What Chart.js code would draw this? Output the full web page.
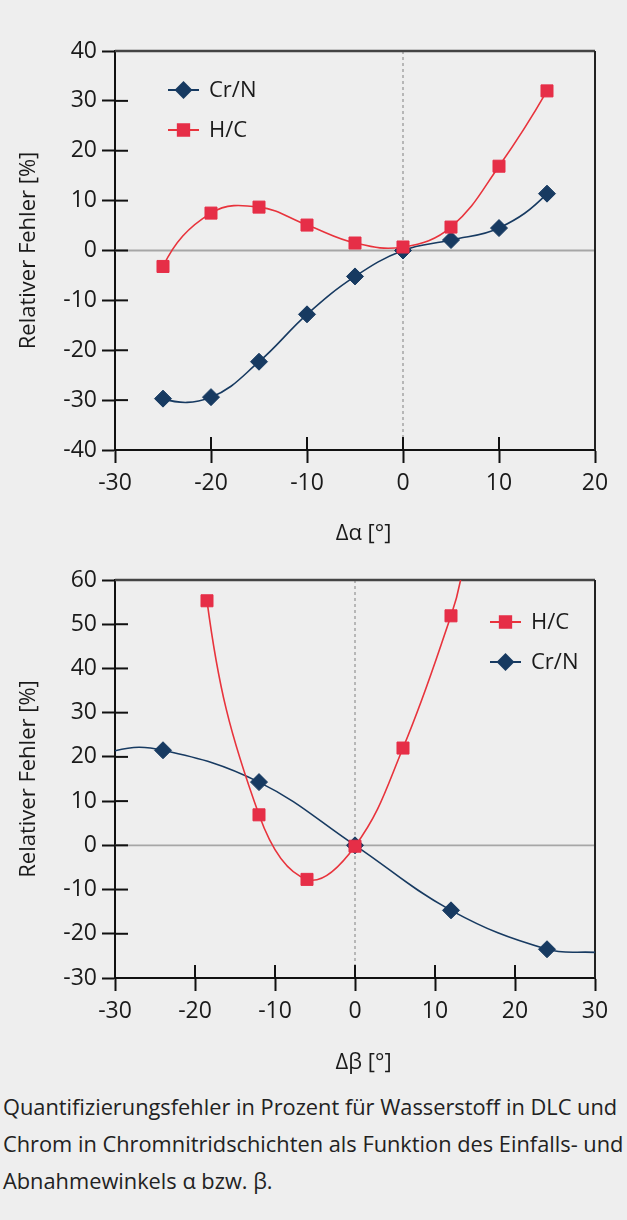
<!DOCTYPE html>
<html>
<head>
<meta charset="utf-8">
<script src="https://cdn.jsdelivr.net/npm/chart.js@4.4.1/dist/chart.umd.min.js"></script>
<style>
  html, body { margin: 0; padding: 0; background: #eeeeee; }
  body { width: 627px; height: 1220px; position: relative; overflow: hidden; font-family: 'Open Sans', sans-serif; }
  .box { position: absolute; left: 0; width: 627px; }
  #alphaBox { top: 0; height: 560px; }
  #betaBox { top: 560px; height: 520px; }
  .caption { position: absolute; left: 3px; top: 1088px; font-size: 21.8px; line-height: 37px; color: #222; white-space: nowrap; }
</style>
</head>
<body>
<div class="box" id="alphaBox"><canvas id="alphaChart" width="627" height="560"></canvas></div>
<div class="box" id="betaBox"><canvas id="betaChart" width="627" height="520"></canvas></div>
<div class="caption">Quantifizierungsfehler in Prozent für Wasserstoff in DLC und<br>Chrom in Chromnitridschichten als Funktion des Einfalls- und<br>Abnahmewinkels α bzw. β.</div>
<script>
// --- Δα chart
const alphaX = [-25, -20, -15, -10, -5, 0, 5, 10, 15];
const crnAlpha = [-29.7, -29.4, -22.3, -12.8, -5.2, 0, 2.1, 4.5, 11.4];
const hcAlpha = [-3.2, 7.5, 8.7, 5.1, 1.5, 0.7, 4.7, 16.9, 32.0];
const alphaXTicks = [-30, -20, -10, 0, 10, 20];
const alphaYTicks = [-40, -30, -20, -10, 0, 10, 20, 30, 40];

// --- Δβ chart (curves run on past the measured points, mark 0 = no marker)
const crnBetaX = [-30, -24, -12, 0, 12, 24, 30];
const crnBeta = [21.4, 21.5, 14.3, 0, -14.7, -23.5, -24.2];
const crnBetaMark = [0, 1, 1, 1, 1, 1, 0];
const hcBetaX = [-18.5, -12, -6, 0, 6, 12, 13.2];
const hcBeta = [55.3, 6.9, -7.7, -0.2, 22.0, 51.9, 60];
const hcBetaMark = [1, 1, 1, 1, 1, 1, 0];
const betaXTicks = [-30, -20, -10, 0, 10, 20, 30];
const betaYTicks = [-30, -20, -10, 0, 10, 20, 30, 40, 50, 60];

const NAVY = '#173a61';
const RED = '#e62e47';
const RED_LINE = '#e8333c';
const TEXT = '#1a1a1a';

Chart.defaults.font.family = "'Open Sans', sans-serif";
Chart.defaults.color = TEXT;

function pts(xs, ys) {
  return xs.map((x, i) => ({ x, y: ys[i] }));
}

function reflect(vx, vy, dx, dy) {
  const len = Math.hypot(dx, dy);
  const ux = dx / len;
  const uy = dy / len;
  const dot = vx * ux + vy * uy;
  return [2 * dot * ux - vx, 2 * dot * uy - vy];
}

// end segments curve like the spreadsheet smoothing (mirrored tangent)
const smoothEnds = {
  id: 'smoothEnds',
  beforeDatasetDraw(chart, args) {
    const meta = args.meta;
    const line = meta.dataset;
    if (!line) return;
    const ends = chart.data.datasets[args.index].mirrorEnds || [true, true];
    line.updateControlPoints(chart.chartArea, meta.iScale.axis);
    const p = line.points;
    const n = p.length;
    if (n < 3) return;
    let r;
    if (ends[0]) {
      r = reflect(p[1].x - p[1].cp1x, p[1].y - p[1].cp1y, p[1].x - p[0].x, p[1].y - p[0].y);
      p[0].cp2x = p[0].x + r[0];
      p[0].cp2y = p[0].y + r[1];
    }
    if (ends[1]) {
      const a = p[n - 2];
      const b = p[n - 1];
      r = reflect(a.cp2x - a.x, a.cp2y - a.y, b.x - a.x, b.y - a.y);
      b.cp1x = b.x - r[0];
      b.cp1y = b.y - r[1];
    }
  },
};

function drawLine(ctx, x1, y1, x2, y2) {
  ctx.beginPath();
  ctx.moveTo(x1, y1);
  ctx.lineTo(x2, y2);
  ctx.stroke();
}

const frame = {
  id: 'frame',
  beforeDatasetsDraw(chart) {
    const { ctx, chartArea: a, scales: { x, y } } = chart;
    ctx.save();
    const y0 = y.getPixelForValue(0);
    ctx.strokeStyle = '#a6a6a6';
    ctx.lineWidth = 1.8;
    drawLine(ctx, a.left, y0, a.right, y0);
    const x0 = x.getPixelForValue(0);
    ctx.setLineDash([3, 3]);
    ctx.strokeStyle = '#9a9a9a';
    ctx.lineWidth = 1.3;
    drawLine(ctx, x0, a.top, x0, a.bottom);
    ctx.setLineDash([]);
    ctx.strokeStyle = '#111';
    ctx.lineWidth = 2;
    y.ticks.forEach((t) => {
      const py = y.getPixelForValue(t.value);
      drawLine(ctx, a.left, py, a.left + 13, py);
    });
    x.ticks.forEach((t) => {
      const px = x.getPixelForValue(t.value);
      drawLine(ctx, px, a.bottom, px, a.bottom - 13);
    });
    ctx.strokeStyle = '#444';
    ctx.lineWidth = 2.5;
    drawLine(ctx, a.left, a.top, a.right, a.top);
    ctx.strokeStyle = '#222';
    ctx.lineWidth = 2;
    drawLine(ctx, a.right, a.top, a.right, a.bottom);
    ctx.restore();
  },
};

const insideLegend = {
  id: 'insideLegend',
  afterDatasetsDraw(chart, args, opts) {
    const ctx = chart.ctx;
    opts.items.forEach((idx, i) => {
      const ds = chart.data.datasets[idx];
      const y = opts.y + i * opts.gap;
      ctx.save();
      ctx.strokeStyle = ds.borderColor;
      ctx.lineWidth = 2;
      drawLine(ctx, opts.x, y, opts.x + 31, y);
      ctx.fillStyle = ds.pointBackgroundColor;
      ctx.strokeStyle = ds.pointBackgroundColor;
      Chart.helpers.drawPoint(ctx, { pointStyle: ds.pointStyle, radius: ds.legendRadius, rotation: 0, borderWidth: 1 }, opts.x + 15.5, y);
      ctx.fillStyle = TEXT;
      ctx.font = "22px 'Open Sans', sans-serif";
      ctx.textBaseline = 'middle';
      ctx.fillText(ds.label, opts.x + 41, y + 1);
      ctx.restore();
    });
  },
};

function crnSet(data, marks, mirrorEnds) {
  return {
    label: 'Cr/N',
    data,
    borderColor: NAVY,
    borderWidth: 1.6,
    pointStyle: 'rectRot',
    pointBackgroundColor: NAVY,
    pointBorderColor: NAVY,
    pointBorderWidth: 1,
    pointRadius: (c) => (marks && !marks[c.dataIndex] ? 0 : 8.5),
    legendRadius: 7.5,
    tension: 0.4,
    clip: 0,
    mirrorEnds,
  };
}

function hcSet(data, marks, mirrorEnds) {
  return {
    label: 'H/C',
    data,
    borderColor: RED_LINE,
    borderWidth: 1.6,
    pointStyle: 'rect',
    pointBackgroundColor: RED,
    pointBorderColor: RED,
    pointBorderWidth: 1,
    pointRadius: (c) => (marks && !marks[c.dataIndex] ? 0 : 8.5),
    legendRadius: 8,
    tension: 0.4,
    clip: 0,
    mirrorEnds,
  };
}

function scales(xTicks, yTicks, xTitle, xHeight, xTitlePad) {
  const grid = { drawOnChartArea: false, tickLength: 13, tickColor: '#111', tickWidth: 2 };
  const border = { display: true, color: '#111', width: 2 };
  const tickFont = { size: 23 };
  return {
    x: {
      type: 'linear',
      min: xTicks[0],
      max: xTicks[xTicks.length - 1],
      afterBuildTicks: (s) => { s.ticks = xTicks.map((v) => ({ value: v })); },
      afterFit: (s) => { s.height = xHeight; },
      grid,
      border,
      ticks: { padding: 7, maxRotation: 0, font: tickFont, callback: (v) => String(v) },
      title: { display: true, text: '   ' + xTitle, font: { size: 22 }, padding: { top: 0, bottom: xTitlePad } },
    },
    y: {
      type: 'linear',
      min: yTicks[0],
      max: yTicks[yTicks.length - 1],
      afterBuildTicks: (s) => { s.ticks = yTicks.map((v) => ({ value: v })); },
      afterFit: (s) => { s.width = 115; },
      grid,
      border,
      ticks: { padding: 5, font: tickFont, callback: (v) => String(v) },
      title: { display: true, text: 'Relativer Fehler [%]', font: { size: 22 }, padding: { top: 16, bottom: 0 } },
    },
  };
}

const common = {
  responsive: false,
  animation: false,
  elements: { line: { capBezierPoints: false } },
  plugins: { legend: { display: false }, tooltip: { enabled: false } },
};

new Chart(document.getElementById('alphaChart'), {
  type: 'line',
  data: {
    datasets: [hcSet(pts(alphaX, hcAlpha)), crnSet(pts(alphaX, crnAlpha))],
  },
  options: {
    ...common,
    layout: { padding: { top: 51, right: 32, left: 0, bottom: 0 } },
    scales: scales(alphaXTicks, alphaYTicks, 'Δα [°]', 110, 13),
    plugins: { ...common.plugins, insideLegend: { items: [1, 0], x: 168, y: 90, gap: 40 } },
  },
  plugins: [frame, smoothEnds, insideLegend],
});

new Chart(document.getElementById('betaChart'), {
  type: 'line',
  data: {
    datasets: [
      hcSet(pts(hcBetaX, hcBeta), hcBetaMark),
      crnSet(pts(crnBetaX, crnBeta), crnBetaMark, [true, false]),
    ],
  },
  options: {
    ...common,
    layout: { padding: { top: 20, right: 32, left: 0, bottom: 0 } },
    scales: scales(betaXTicks, betaYTicks, 'Δβ [°]', 102, 4),
    plugins: { ...common.plugins, insideLegend: { items: [0, 1], x: 490, y: 62, gap: 40 } },
  },
  plugins: [frame, smoothEnds, insideLegend],
});
</script>
</body>
</html>
